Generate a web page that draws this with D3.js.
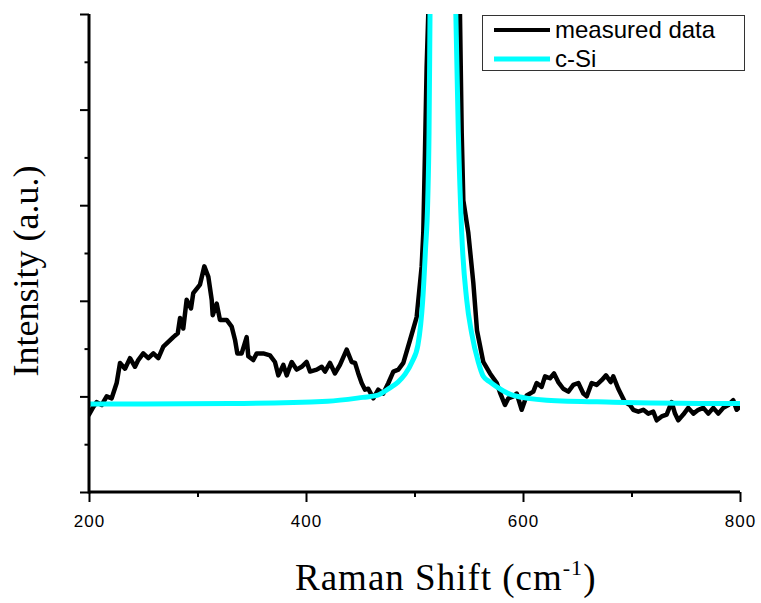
<!DOCTYPE html>
<html>
<head>
<meta charset="utf-8">
<script src="https://cdn.jsdelivr.net/npm/d3@7"></script>
<style>
  html, body { margin: 0; padding: 0; background: #fff; }
  svg { display: block; }
</style>
</head>
<body>
<svg id="chart" width="761" height="603"></svg>
<script>
// ---- data ----
const measuredX = [200.0,204.0,207.1,211.7,216.3,220.9,225.5,228.6,233.2,237.8,
  242.4,245.4,250.0,254.7,259.3,263.9,268.5,273.1,277.7,281.8,
  283.9,286.9,290.0,294.0,296.1,302.3,306.3,310.0,313.1,314.0,
  317.7,320.7,326.9,331.5,334.6,336.7,340.7,345.3,346.8,351.4,
  354.6,360.6,366.8,371.4,374.5,379.1,382.2,386.8,391.4,396.0,
  400.6,403.7,409.9,414.5,417.5,422.1,426.7,431.3,437.5,442.1,
  445.2,448.2,451.3,454.4,457.4,462.0,466.6,471.2,475.9,480.5,
  485.1,489.7,495.9,502.0,506.6,508.1,509.7,511.2,512.7,527.0,
  541.9,543.5,545.0,549.6,554.2,557.6,563.4,569.6,575.8,578.8,
  583.4,586.5,591.1,594.2,598.8,603.4,609.5,612.6,617.2,620.3,
  624.9,628.6,632.5,637.1,641.8,646.4,651.0,655.6,658.7,663.3,
  667.9,672.5,676.5,680.8,683.2,687.8,690.9,694.0,698.6,701.6,
  706.3,710.9,715.5,720.1,723.2,727.8,732.4,737.0,740.1,743.1,
  747.7,752.3,757.0,761.6,766.2,770.8,775.4,780.0,784.6,789.2,
  793.8,796.9,800.0];
const measuredY = [8.1,8.9,9.4,9.1,10.0,9.8,11.4,13.5,12.9,14.0,
  13.1,13.8,14.5,14.0,14.5,14.0,15.2,15.7,16.2,16.6,
  18.2,17.1,20.1,19.2,20.8,21.7,23.6,22.5,20.1,18.5,
  19.7,18.0,18.0,17.3,15.9,14.5,14.5,16.2,14.2,13.8,
  14.5,14.5,14.3,13.6,12.2,13.3,12.2,13.6,12.8,13.1,
  13.6,12.6,12.8,13.1,12.6,13.5,12.4,13.3,14.9,13.6,
  13.5,12.4,11.4,10.7,10.8,9.8,10.7,10.3,11.4,12.6,
  12.8,13.5,15.9,18.3,23.6,27.1,35.8,44.5,50.0,120,
  50.0,37.6,30.5,27.1,21.9,16.9,13.6,12.4,11.4,10.4,
  9.1,9.8,10.0,10.3,8.6,10.1,10.5,11.4,11.0,12.1,
  11.9,12.4,11.5,10.8,10.5,11.2,11.4,10.3,10.0,11.4,
  11.2,11.7,12.2,11.5,12.1,10.8,10.1,9.4,9.1,8.6,
  8.4,8.6,8.2,8.4,7.5,7.9,8.1,9.4,8.2,7.5,
  8.1,8.8,8.2,8.6,8.8,8.2,8.8,8.2,8.8,9.1,
  9.6,8.6,8.9];

const fitX = [200,330,420,452.5,465.4,477.4,484.8,491.2,497.7,503.2,507.6,510.1,512.2,513.4,514.3,
  526,538.1,540.4,543.5,548.1,552.7,558.8,563.4,569.6,575.8,591.1,621.8,683.2,800];
const fitY = [9.2,9.25,9.5,9.9,10.1,10.9,11.5,12.3,13.6,15.4,20.1,25.3,30.5,37.6,50,
  200,50,37.6,27.1,20.1,16.6,13.6,12.1,11.5,11.0,10.1,9.6,9.4,9.25];

const xMajorTicks = [200, 400, 600, 800];
const xMinorTicks = [300, 500, 700];
const yMajorTicks = [0, 10, 20, 30, 40, 50];
const yMinorTicks = [5, 15, 25, 35, 45];

const seriesNames = ["measured data", "c-Si"];
const seriesColors = ["#000000", "#00ffff"];

// ---- drawing ----
const svg = d3.select("#chart");
svg.append("rect").attr("width", 761).attr("height", 603).attr("fill", "#fff");

const x = d3.scaleLinear().domain([200, 800]).range([89, 740]);
const y = d3.scaleLinear().domain([0, 50]).range([492, 14]);

svg.append("clipPath").attr("id", "plotclip")
  .append("rect")
  .attr("x", x(200)).attr("y", y(50))
  .attr("width", x(800) - x(200)).attr("height", y(0) - y(50));

const measured = d3.zip(measuredX, measuredY);
const fit = d3.zip(fitX, fitY);

const lineGen = d3.line().x(d => x(d[0])).y(d => y(d[1]));
const fitGen = d3.line().x(d => x(d[0])).y(d => y(d[1])).curve(d3.curveMonotoneX);

const plot = svg.append("g").attr("clip-path", "url(#plotclip)");
plot.append("path").datum(measured)
  .attr("d", lineGen).attr("fill", "none")
  .attr("stroke", seriesColors[0]).attr("stroke-width", 4.5)
  .attr("stroke-linejoin", "round").attr("stroke-linecap", "round");
plot.append("path").datum(fit)
  .attr("d", fitGen).attr("fill", "none")
  .attr("stroke", seriesColors[1]).attr("stroke-width", 5)
  .attr("stroke-linejoin", "round");

// axes
function styleAxis(g) {
  g.select(".domain").remove();
  g.selectAll(".tick line").attr("stroke", "#000").attr("stroke-width", 2);
}

const xMajor = svg.append("g").attr("transform", `translate(0,${y(0)})`)
  .call(d3.axisBottom(x).tickValues(xMajorTicks).tickSize(10).tickSizeOuter(0));
styleAxis(xMajor);
xMajor.selectAll(".tick text")
  .attr("y", 35).attr("dy", 0)
  .attr("font-family", "Liberation Sans, Arial, sans-serif")
  .attr("font-size", 17).attr("letter-spacing", 1).attr("fill", "#000");

const xMinor = svg.append("g").attr("transform", `translate(0,${y(0)})`)
  .call(d3.axisBottom(x).tickValues(xMinorTicks).tickSize(5).tickSizeOuter(0).tickFormat(""));
styleAxis(xMinor);

const yMajor = svg.append("g").attr("transform", `translate(${x(200)},0)`)
  .call(d3.axisLeft(y).tickValues(yMajorTicks).tickSize(9).tickSizeOuter(0).tickFormat(""));
styleAxis(yMajor);
const yMinor = svg.append("g").attr("transform", `translate(${x(200)},0)`)
  .call(d3.axisLeft(y).tickValues(yMinorTicks).tickSize(4.5).tickSizeOuter(0).tickFormat(""));
styleAxis(yMinor);

// axis lines
svg.append("line")
  .attr("x1", x(200)).attr("x2", x(800)).attr("y1", y(0)).attr("y2", y(0))
  .attr("stroke", "#000").attr("stroke-width", 3);
svg.append("line")
  .attr("x1", x(200)).attr("x2", x(200)).attr("y1", y(0) + 1.5).attr("y2", y(50))
  .attr("stroke", "#000").attr("stroke-width", 3);

// axis titles
const xt = svg.append("text")
  .attr("x", 295).attr("y", 590)
  .attr("font-family", "Liberation Serif, Times New Roman, serif")
  .attr("font-size", 37).attr("letter-spacing", 1).attr("fill", "#000");
xt.append("tspan").text("Raman Shift (cm");
xt.append("tspan").attr("font-size", 22).attr("dy", -15).text("-1");
xt.append("tspan").attr("dy", 15).text(")");

svg.append("text")
  .attr("transform", "translate(38,271) rotate(-90)")
  .attr("text-anchor", "middle")
  .attr("font-family", "Liberation Serif, Times New Roman, serif")
  .attr("font-size", 36).attr("fill", "#000")
  .text("Intensity (a.u.)");

// legend
const legend = svg.append("g");
legend.append("rect")
  .attr("x", 482.5).attr("y", 15.5).attr("width", 262).attr("height", 55)
  .attr("fill", "#fff").attr("stroke", "#333").attr("stroke-width", 1);
const rowsY = [30, 59];
seriesNames.forEach((name, i) => {
  legend.append("line")
    .attr("x1", 494).attr("x2", 550).attr("y1", rowsY[i]).attr("y2", rowsY[i])
    .attr("stroke", seriesColors[i]).attr("stroke-width", i === 0 ? 4 : 5);
  legend.append("text")
    .attr("x", 555).attr("y", rowsY[i] + 8)
    .attr("font-family", "Liberation Sans, Arial, sans-serif")
    .attr("font-size", 24).attr("fill", "#000")
    .text(name);
});
</script>
</body>
</html>
